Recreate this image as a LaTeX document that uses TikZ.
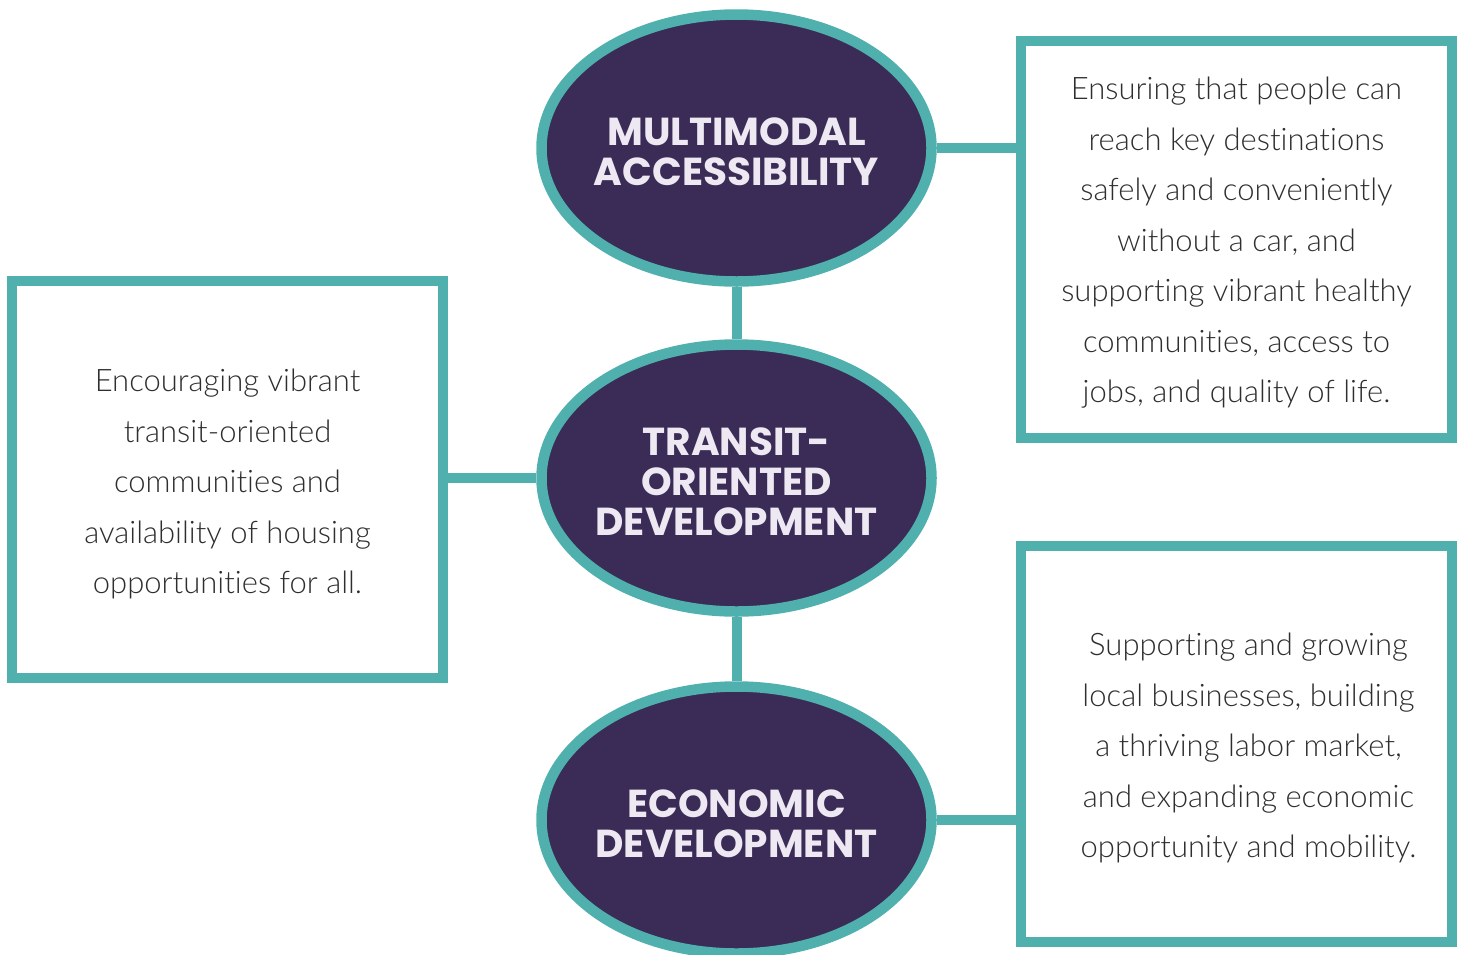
\documentclass[tikz,border=0pt]{standalone}
\usepackage{fontspec}
\setmainfont{Lato}[UprightFont={* Light},Ligatures=NoCommon]
\newfontfamily\titlefont{Poppins}
\usetikzlibrary{shapes.geometric,backgrounds}
\definecolor{teal}{HTML}{4FB0AE}
\definecolor{plum}{HTML}{3A2C56}
\definecolor{lav}{HTML}{EEE8F2}
\definecolor{body}{HTML}{2E2E2E}
\begin{document}
\begin{tikzpicture}[x=1pt,y=-1pt,
  pillar/.style={ellipse,draw=teal,fill=plum,line width=10.5pt,minimum width=390pt,minimum height=267pt,inner sep=0pt},
  pillartext/.style={text=lav,align=center,inner sep=0pt,font=\titlefont\bfseries\fontsize{39}{40}\selectfont},
  infobox/.style={rectangle,draw=teal,line width=10.5pt,inner sep=0pt,fill=white},
  infotext/.style={text=body,align=center,inner sep=0pt,font=\fontsize{31}{50.5}\selectfont},
  link/.style={draw=teal,line width=10pt}]
\useasboundingbox (0,0) rectangle (1463,954);
\node[infobox,minimum width=431pt,minimum height=397pt] (b1) at (1236.5,239.5) {};
\node[infobox,minimum width=431pt,minimum height=397pt] (b2) at (227.5,479.5) {};
\node[infobox,minimum width=431pt,minimum height=396pt] (b3) at (1236.5,744) {};
\node[pillar] (e1) at (736.5,148) {};
\node[pillar] (e2) at (736.5,478) {};
\node[pillar] (e3) at (736.5,820) {};
\node[pillartext,yshift=-4pt] (l1) at (e1.center) {MULTIMODAL\\ACCESSIBILITY};
\node[pillartext,yshift=-4pt] (l2) at (e2.center) {TRANSIT-\\ORIENTED\\DEVELOPMENT};
\node[pillartext,yshift=-4pt] (l3) at (e3.center) {ECONOMIC\\DEVELOPMENT};
\node[infotext] (t1) at (1236.5,243) {Ensuring that people can\\reach key destinations\\safely and conveniently\\without a car, and\\supporting vibrant healthy\\communities, access to\\jobs, and quality of life.};
\node[infotext] (t2) at (227.5,484) {Encouraging vibrant\\transit-oriented\\communities and\\availability of housing\\opportunities for all.};
\node[infotext] (t3) at (1248.5,748) {Supporting and growing\\local businesses, building\\a thriving labor market,\\and expanding economic\\opportunity and mobility.};
\begin{scope}[on background layer]
\path[link] (e1.south) -- (e2.north);
\path[link] (e2.south) -- (e3.north);
\end{scope}
\path[link] (e1.east) -- (e1.east -| b1.west);
\path[link] (e2.west) -- (e2.west -| b2.east);
\path[link] (e3.east) -- (e3.east -| b3.west);
\end{tikzpicture}
\end{document}
